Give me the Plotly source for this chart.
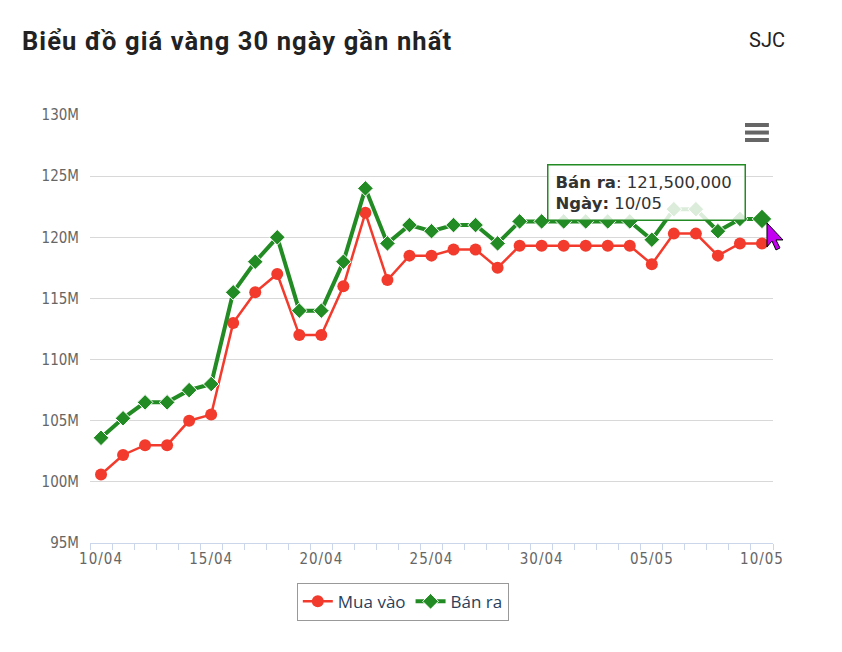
import plotly.graph_objects as go

# ---- data ----
day_labels = ["10/04", "11/04", "12/04", "13/04", "14/04", "15/04", "16/04", "17/04",
              "18/04", "19/04", "20/04", "21/04", "22/04", "23/04", "24/04", "25/04",
              "26/04", "27/04", "28/04", "29/04", "30/04", "01/05", "02/05", "03/05",
              "04/05", "05/05", "06/05", "07/05", "08/05", "09/05", "10/05"]
mua_vao_m = [100.6, 102.2, 103.0, 103.0, 105.0, 105.5, 113.0, 115.5, 117.0, 112.0,
             112.0, 116.0, 122.0, 116.5, 118.5, 118.5, 119.0, 119.0, 117.5, 119.3,
             119.3, 119.3, 119.3, 119.3, 119.3, 117.8, 120.3, 120.3, 118.5, 119.5, 119.5]
ban_ra_m = [103.6, 105.2, 106.5, 106.5, 107.5, 108.0, 115.5, 118.0, 120.0, 114.0,
            114.0, 118.0, 124.0, 119.5, 121.0, 120.5, 121.0, 121.0, 119.5, 121.3,
            121.3, 121.3, 121.3, 121.3, 121.3, 119.8, 122.3, 122.3, 120.5, 121.5, 121.5]
y_tickvals = [95e6, 100e6, 105e6, 110e6, 115e6, 120e6, 125e6, 130e6]
y_ticktext = ["95M", "100M", "105M", "110M", "115M", "120M", "125M", "130M"]
x_label_every = 5
series_names = ["Mua vào", "Bán ra"]
title_text = "Biểu đồ giá vàng 30 ngày gần nhất"
brand_text = "SJC"

mua_vao = [v * 1_000_000 for v in mua_vao_m]
ban_ra = [v * 1_000_000 for v in ban_ra_m]
n = len(day_labels)
x_idx = list(range(n))
x_range = [-0.5, n - 0.5]
y_range = [y_tickvals[0], y_tickvals[-1]]

RED = "#f23b2c"
GREEN = "#238b23"
AXIS_FONT = "DejaVu Sans Condensed, Liberation Sans Narrow, sans-serif"

fig = go.Figure()
fig.add_trace(go.Scatter(
    x=x_idx, y=mua_vao, name=series_names[0], mode="lines+markers",
    line=dict(color=RED, width=2.5),
    marker=dict(symbol="circle", size=12, color=RED, opacity=1),
))
fig.add_trace(go.Scatter(
    x=x_idx, y=ban_ra, name=series_names[1], mode="lines+markers",
    line=dict(color=GREEN, width=4),
    marker=dict(symbol="diamond", size=[12] * (n - 1) + [15], color=GREEN, opacity=1),
))

x_tickvals = x_idx[::x_label_every]
x_ticktext = [f'<span style="letter-spacing:1px">{day_labels[i]}</span>' for i in x_tickvals]
fig.update_xaxes(
    range=x_range, tickvals=x_tickvals, ticktext=x_ticktext,
    ticks="", showgrid=False, showline=True, linecolor="#ccd6eb", linewidth=1,
    zeroline=False, ticklabelstandoff=2,
    tickfont=dict(family=AXIS_FONT, size=15, color="#666666"),
    minor=dict(ticks="outside", ticklen=6, tickcolor="#ccd6eb", tickwidth=1,
               tick0=-0.5, dtick=1, showgrid=False),
)
fig.update_yaxes(
    range=y_range, tickvals=y_tickvals, ticktext=y_ticktext,
    showgrid=True, gridcolor="#d8d8d8", gridwidth=1, zeroline=False,
    showline=False, ticks="", ticklabelstandoff=10,
    tickfont=dict(family=AXIS_FONT, size=15, color="#666666"),
)

# tooltip-like box at the last point
tip_text = (f"<b>{series_names[1]}</b>: {ban_ra[-1]:,.0f}<br>"
            f"<b>Ngày:</b> {day_labels[-1]}")
fig.add_annotation(
    x=x_idx[-1], y=ban_ra[-1], text=tip_text, showarrow=False,
    xanchor="right", yanchor="middle", xshift=-16, yshift=26, align="left",
    width=182,
    bgcolor="rgba(255,255,255,0.84)", bordercolor=GREEN, borderwidth=1.5,
    borderpad=7, font=dict(family="DejaVu Sans, sans-serif", size=16.5, color="#333333"),
)

# title and brand label
fig.add_annotation(
    xref="paper", yref="paper", x=-0.103, y=1.172, xanchor="left", yanchor="middle",
    text=f'<span style="letter-spacing:1.1px"><b>{title_text}</b></span>', showarrow=False,
    font=dict(family="Roboto, sans-serif", size=25.5, color="#222222"),
)
fig.add_annotation(
    xref="paper", yref="paper", x=1.021, y=1.176, xanchor="right", yanchor="middle",
    text=brand_text, showarrow=False,
    font=dict(family="Roboto, sans-serif", size=20, color="#222222"),
)

# hamburger menu icon
for yy in (0.9766, 0.9590, 0.9416):
    fig.add_shape(type="line", xref="paper", yref="paper", x0=0.959, x1=0.994,
                  y0=yy, y1=yy, line=dict(color="#666666", width=4))

# mouse cursor next to the hovered point (paper refs so it is not clipped)
px = (x_idx[-1] - x_range[0]) / (x_range[1] - x_range[0])
py = (ban_ra[-1] - y_range[0]) / (y_range[1] - y_range[0])
fig.add_shape(
    type="path", xref="paper", yref="paper", xsizemode="pixel", ysizemode="pixel",
    xanchor=px, yanchor=py,
    path="M 5 -4 L 5 -28 L 10 -22 L 14 -31 L 18 -29 L 14 -21 L 21 -21 Z",
    fillcolor="#c400f2", line=dict(color="#000000", width=1),
)

fig.update_layout(
    width=842, height=652,
    margin=dict(l=82, r=77, t=107, b=117),
    plot_bgcolor="white", paper_bgcolor="white",
    hovermode=False,
    showlegend=True,
    legend=dict(
        orientation="h", x=0.458, xanchor="center", y=-0.093, yanchor="top",
        bordercolor="#999999", borderwidth=1, bgcolor="white",
        font=dict(family="Open Sans, sans-serif", size=17, color="#2b3f5c"),
        itemwidth=30, tracegroupgap=0,
    ),
)

fig.write_html("out.html")
